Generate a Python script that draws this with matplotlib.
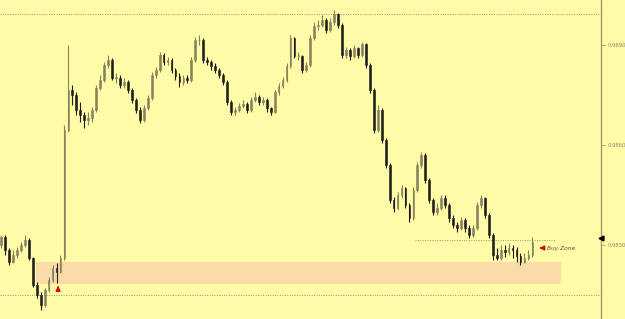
import matplotlib
matplotlib.use("Agg")
import matplotlib.pyplot as plt
from matplotlib.patches import Rectangle

closes = [0.98324, 0.98285, 0.98249, 0.98270, 0.98285, 0.98300, 0.98315, 0.98261, 0.98180, 0.98150,
          0.98120, 0.98165, 0.98195, 0.98231, 0.98219, 0.98261, 0.98645, 0.98765, 0.98750, 0.98705,
          0.98690, 0.98675, 0.98681, 0.98705, 0.98771, 0.98795, 0.98840, 0.98855, 0.98801, 0.98801,
          0.98780, 0.98789, 0.98765, 0.98735, 0.98705, 0.98675, 0.98711, 0.98741, 0.98810, 0.98825,
          0.98870, 0.98849, 0.98855, 0.98825, 0.98807, 0.98789, 0.98801, 0.98795, 0.98855, 0.98915,
          0.98915, 0.98855, 0.98849, 0.98837, 0.98825, 0.98810, 0.98789, 0.98729, 0.98699, 0.98705,
          0.98717, 0.98723, 0.98705, 0.98735, 0.98744, 0.98729, 0.98735, 0.98711, 0.98699, 0.98759,
          0.98777, 0.98795, 0.98837, 0.98921, 0.98867, 0.98867, 0.98825, 0.98840, 0.98921, 0.98957,
          0.98960, 0.98975, 0.98945, 0.98969, 0.98993, 0.98960, 0.98870, 0.98885, 0.98867, 0.98891,
          0.98870, 0.98903, 0.98840, 0.98765, 0.98645, 0.98705, 0.98615, 0.98540, 0.98435, 0.98411,
          0.98450, 0.98471, 0.98420, 0.98381, 0.98465, 0.98540, 0.98570, 0.98495, 0.98435, 0.98399,
          0.98411, 0.98441, 0.98420, 0.98381, 0.98360, 0.98351, 0.98375, 0.98351, 0.98330, 0.98351,
          0.98420, 0.98441, 0.98390, 0.98330, 0.98270, 0.98261, 0.98285, 0.98279, 0.98291, 0.98285,
          0.98267, 0.98249, 0.98261, 0.98270, 0.98309]

highs = [0.98330, 0.98330, 0.98290, 0.98285, 0.98295, 0.98310, 0.98330, 0.98320, 0.98265, 0.98190,
         0.98160, 0.98170, 0.98205, 0.98240, 0.98245, 0.98270, 0.98660, 0.98900, 0.98780, 0.98760,
         0.98730, 0.98700, 0.98700, 0.98715, 0.98780, 0.98810, 0.98850, 0.98870, 0.98860, 0.98815,
         0.98810, 0.98800, 0.98795, 0.98770, 0.98740, 0.98715, 0.98720, 0.98750, 0.98820, 0.98835,
         0.98880, 0.98875, 0.98865, 0.98860, 0.98830, 0.98815, 0.98810, 0.98810, 0.98865, 0.98925,
         0.98930, 0.98920, 0.98865, 0.98855, 0.98845, 0.98830, 0.98815, 0.98795, 0.98735, 0.98715,
         0.98725, 0.98735, 0.98730, 0.98745, 0.98760, 0.98750, 0.98745, 0.98740, 0.98715, 0.98765,
         0.98785, 0.98805, 0.98845, 0.98930, 0.98925, 0.98880, 0.98870, 0.98850, 0.98930, 0.98970,
         0.98975, 0.98990, 0.98980, 0.98980, 0.99005, 0.98995, 0.98965, 0.98895, 0.98890, 0.98900,
         0.98895, 0.98910, 0.98905, 0.98845, 0.98770, 0.98720, 0.98710, 0.98620, 0.98545, 0.98445,
         0.98460, 0.98480, 0.98475, 0.98425, 0.98475, 0.98550, 0.98580, 0.98575, 0.98500, 0.98440,
         0.98425, 0.98450, 0.98450, 0.98425, 0.98390, 0.98370, 0.98385, 0.98380, 0.98360, 0.98360,
         0.98430, 0.98450, 0.98445, 0.98395, 0.98335, 0.98290, 0.98300, 0.98300, 0.98305, 0.98300,
         0.98295, 0.98275, 0.98275, 0.98285, 0.98325]

lows = [0.98290, 0.98270, 0.98240, 0.98245, 0.98262, 0.98280, 0.98295, 0.98255, 0.98175, 0.98140,
        0.98105, 0.98115, 0.98160, 0.98190, 0.98185, 0.98215, 0.98255, 0.98640, 0.98720, 0.98690,
        0.98670, 0.98650, 0.98660, 0.98670, 0.98700, 0.98765, 0.98790, 0.98830, 0.98795, 0.98785,
        0.98770, 0.98770, 0.98755, 0.98725, 0.98695, 0.98665, 0.98670, 0.98705, 0.98735, 0.98800,
        0.98820, 0.98840, 0.98840, 0.98815, 0.98795, 0.98775, 0.98780, 0.98785, 0.98790, 0.98850,
        0.98900, 0.98845, 0.98840, 0.98825, 0.98815, 0.98800, 0.98780, 0.98720, 0.98690, 0.98690,
        0.98700, 0.98710, 0.98695, 0.98700, 0.98730, 0.98720, 0.98720, 0.98700, 0.98690, 0.98695,
        0.98750, 0.98770, 0.98790, 0.98830, 0.98860, 0.98855, 0.98815, 0.98820, 0.98835, 0.98915,
        0.98945, 0.98955, 0.98935, 0.98940, 0.98960, 0.98950, 0.98860, 0.98860, 0.98855, 0.98860,
        0.98860, 0.98865, 0.98830, 0.98755, 0.98635, 0.98640, 0.98605, 0.98530, 0.98425, 0.98400,
        0.98405, 0.98440, 0.98410, 0.98370, 0.98375, 0.98460, 0.98530, 0.98485, 0.98425, 0.98390,
        0.98390, 0.98405, 0.98410, 0.98370, 0.98350, 0.98340, 0.98345, 0.98340, 0.98320, 0.98325,
        0.98345, 0.98410, 0.98380, 0.98320, 0.98255, 0.98255, 0.98255, 0.98265, 0.98270, 0.98260,
        0.98250, 0.98240, 0.98245, 0.98255, 0.98265]

first_open = 0.98300
tick_values = [0.98900, 0.98600, 0.98300]
tick_labels = ["0.9890", "0.9860", "0.9830"]
top_level = 0.98993
bottom_level = 0.98150
buy_level = 0.98315
zone_top = 0.98249
zone_bottom = 0.98183
zone_label = "Buy Zone"

bg = "#FFFBA6"
fig = plt.figure(figsize=(6.25, 3.19), dpi=100, facecolor=bg)
ax = fig.add_axes([0, 0, 601 / 625, 1])
ax.set_facecolor(bg)

n = len(closes)
opens = [first_open] + closes[:-1]
xs = list(range(n))

# zone
ax.add_patch(Rectangle((8.8, zone_bottom), 141.2 - 8.8, zone_top - zone_bottom,
                       facecolor="#FADCA8", edgecolor="none", zorder=1))

# dotted levels
ax.axhline(top_level, color="#9a9070", lw=0.7, ls=(0, (1, 1.5)), zorder=2)
ax.axhline(bottom_level, color="#9a9070", lw=0.7, ls=(0, (1, 1.5)), zorder=2)
ax.plot([104.5, 140], [buy_level, buy_level], color="#9a9070", lw=0.7, ls=(0, (1, 1.5)), zorder=2)

for i in xs:
    o, c, h, l = opens[i], closes[i], highs[i], lows[i]
    col = "#86845f" if c >= o else "#1e1e1e"
    ax.vlines(i, l, h, color=col, lw=0.8, zorder=3)
    ax.bar(i, abs(c - o) if abs(c - o) > 0.000015 else 0.000015, bottom=min(o, c),
           width=0.45, color=col, edgecolor=col, lw=0.4, zorder=4)

# arrows
ax.annotate("", xy=(14.4, 0.98186), xytext=(14.4, 0.98160),
            arrowprops=dict(arrowstyle="-|>", color="#d01010", lw=1.3, mutation_scale=6), zorder=5)
ax.annotate("", xy=(135.0, 0.98291), xytext=(137.4, 0.98291),
            arrowprops=dict(arrowstyle="-|>", color="#d01010", lw=1.3, mutation_scale=6), zorder=5)
ax.text(137.8, 0.98291, zone_label, fontsize=4.2, style="italic", color="#555540",
        va="center", ha="left", zorder=5)

ax.set_xlim(-0.25, 151.3)
ax.set_ylim(0.98078, 0.99035)

for s in ["top", "bottom", "left"]:
    ax.spines[s].set_visible(False)
ax.spines["right"].set_color("#a09a70")
ax.spines["right"].set_linewidth(1.0)
ax.set_xticks([])
ax.yaxis.tick_right()
ax.set_yticks(tick_values)
ax.set_yticklabels(tick_labels)
ax.tick_params(axis="y", direction="out", length=3, width=0.6, color="#a09a70",
               labelsize=3.8, labelcolor="#8a8a70", pad=1.5)

# current price marker
ax.plot([1.0], [buy_level + 0.00005], marker="<", color="black", markersize=3.5,
        transform=ax.get_yaxis_transform(), clip_on=False, zorder=6)

fig.savefig("out.png", dpi=100, facecolor=bg)
